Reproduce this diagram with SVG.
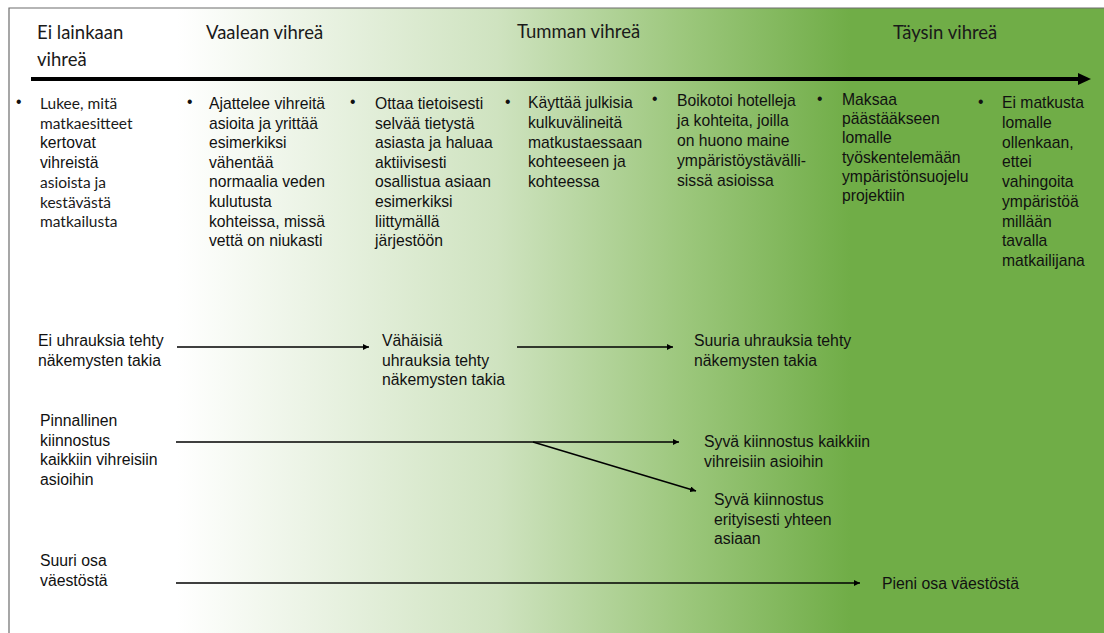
<svg xmlns="http://www.w3.org/2000/svg" width="1104" height="633" viewBox="0 0 1104 633">
  <defs>
    <linearGradient id="bg" x1="0" y1="0" x2="1104" y2="0" gradientUnits="userSpaceOnUse">
      <stop offset="0.16" stop-color="#ffffff"/>
      <stop offset="0.45" stop-color="#cfe3c0"/>
      <stop offset="0.62" stop-color="#9cc77c"/>
      <stop offset="0.77" stop-color="#70ad47"/>
      <stop offset="1" stop-color="#70ad47"/>
    </linearGradient>
    <marker id="ah" viewBox="0 0 10 10" refX="10" refY="5" markerWidth="6" markerHeight="6" markerUnits="userSpaceOnUse" orient="auto">
      <path d="M0,0 L10,5 L0,10 z" fill="#000"/>
    </marker>
    <style>
      .hdr { font-family: Lato, "Liberation Sans", sans-serif; font-size: 18.5px; fill: #1a1a1a; }
      .cal { font-family: Lato, "Liberation Sans", sans-serif; font-size: 15.5px; fill: #1a1a1a; }
      .txt { font-family: "Liberation Sans", Arial, sans-serif; font-size: 15.7px; fill: #111; }
      .lbl { font-family: "Liberation Sans", Arial, sans-serif; font-size: 15.8px; fill: #111; }
      .con { stroke: #000; stroke-width: 1.6; fill: none; }
    </style>
  </defs>

  <rect x="0" y="0" width="1104" height="633" fill="#ffffff"/>
  <rect x="9" y="8" width="1095" height="625" fill="url(#bg)"/>
  <path d="M9,633 V8 H1104" fill="none" stroke="#6d6d6d" stroke-width="1.2"/>

  <g id="header">
    <text class="hdr" x="37" y="39">Ei lainkaan</text>
    <text class="hdr" x="37" y="66">vihreä</text>
    <text class="hdr" x="206" y="39">Vaalean vihreä</text>
    <text class="hdr" x="517" y="38">Tumman vihreä</text>
    <text class="hdr" x="893" y="39">Täysin vihreä</text>
  </g>

  <g id="axis">
    <line x1="31" y1="79" x2="1080" y2="79" stroke="#000" stroke-width="4"/>
    <path d="M1078,73 L1091,79 L1078,85 z" fill="#000"/>
  </g>

  <g id="col1">
    <text class="txt" x="16" y="107">•</text>
    <text class="cal" x="40" y="109">Lukee, mitä</text>
    <text class="cal" x="40" y="128.5">matkaesitteet</text>
    <text class="txt" x="40" y="148">kertovat</text>
    <text class="txt" x="40" y="168">vihreistä</text>
    <text class="cal" x="40" y="188">asioista ja</text>
    <text class="cal" x="40" y="207.5">kestävästä</text>
    <text class="cal" x="40" y="227">matkailusta</text>
  </g>

  <g id="col2">
    <text class="txt" x="187" y="107">•</text>
    <text class="txt" y="109"><tspan x="209">Ajattelee vihreitä</tspan><tspan x="209" dy="19.6">asioita ja yrittää</tspan><tspan x="209" dy="19.6">esimerkiksi</tspan><tspan x="209" dy="19.6">vähentää</tspan><tspan x="209" dy="19.6">normaalia veden</tspan><tspan x="209" dy="19.6">kulutusta</tspan><tspan x="209" dy="19.6">kohteissa, missä</tspan><tspan x="209" dy="19.6">vettä on niukasti</tspan></text>
  </g>

  <g id="col3">
    <text class="txt" x="350" y="107">•</text>
    <text class="txt" y="109"><tspan x="375">Ottaa tietoisesti</tspan><tspan x="375" dy="19.6">selvää tietystä</tspan><tspan x="375" dy="19.6">asiasta ja haluaa</tspan><tspan x="375" dy="19.6">aktiivisesti</tspan><tspan x="375" dy="19.6">osallistua asiaan</tspan><tspan x="375" dy="19.6">esimerkiksi</tspan><tspan x="375" dy="19.6">liittymällä</tspan><tspan x="375" dy="19.6">järjestöön</tspan></text>
  </g>

  <g id="col4">
    <text class="txt" x="505" y="107">•</text>
    <text class="txt" y="108"><tspan x="528">Käyttää julkisia</tspan><tspan x="528" dy="19.8">kulkuvälineitä</tspan><tspan x="528" dy="19.8">matkustaessaan</tspan><tspan x="528" dy="19.8">kohteeseen ja</tspan><tspan x="528" dy="19.8">kohteessa</tspan></text>
  </g>

  <g id="col5">
    <text class="txt" x="652" y="104">•</text>
    <text class="txt" y="106"><tspan x="677">Boikotoi hotelleja</tspan><tspan x="677" dy="20">ja kohteita, joilla</tspan><tspan x="677" dy="20">on huono maine</tspan><tspan x="677" dy="20">ympäristöystävälli-</tspan><tspan x="677" dy="20">sissä asioissa</tspan></text>
  </g>

  <g id="col6">
    <text class="txt" x="817" y="104">•</text>
    <text class="txt" y="105"><tspan x="842">Maksaa</tspan><tspan x="842" dy="19.2">päästääkseen</tspan><tspan x="842" dy="19.2">lomalle</tspan><tspan x="842" dy="19.2">työskentelemään</tspan><tspan x="842" dy="19.2">ympäristönsuojelu</tspan><tspan x="842" dy="19.2">projektiin</tspan></text>
  </g>

  <g id="col7">
    <text class="txt" x="978" y="107">•</text>
    <text class="txt" y="108"><tspan x="1002">Ei matkusta</tspan><tspan x="1002" dy="19.75">lomalle</tspan><tspan x="1002" dy="19.75">ollenkaan,</tspan><tspan x="1002" dy="19.75">ettei</tspan><tspan x="1002" dy="19.75">vahingoita</tspan><tspan x="1002" dy="19.75">ympäristöä</tspan><tspan x="1002" dy="19.75">millään</tspan><tspan x="1002" dy="19.75">tavalla</tspan><tspan x="1002" dy="19.75">matkailijana</tspan></text>
  </g>

  <g id="n-ei-uhrauksia">
    <text class="lbl" y="346"><tspan x="38">Ei uhrauksia tehty</tspan><tspan x="38" dy="19.5">näkemysten takia</tspan></text>
  </g>
  <g id="n-vahaisia">
    <text class="lbl" y="346"><tspan x="382">Vähäisiä</tspan><tspan x="382" dy="19.5">uhrauksia tehty</tspan><tspan x="382" dy="19.5">näkemysten takia</tspan></text>
  </g>
  <g id="n-suuria">
    <text class="lbl" y="346"><tspan x="694">Suuria uhrauksia tehty</tspan><tspan x="694" dy="19.5">näkemysten takia</tspan></text>
  </g>
  <g id="n-pinnallinen">
    <text class="lbl" y="426"><tspan x="40">Pinnallinen</tspan><tspan x="40" dy="19.7">kiinnostus</tspan><tspan x="40" dy="19.7">kaikkiin vihreisiin</tspan><tspan x="40" dy="19.7">asioihin</tspan></text>
  </g>
  <g id="n-syva-kaikkiin">
    <text class="lbl" y="447"><tspan x="704">Syvä kiinnostus kaikkiin</tspan><tspan x="704" dy="19.7">vihreisiin asioihin</tspan></text>
  </g>
  <g id="n-syva-yhteen">
    <text class="lbl" y="505"><tspan x="714">Syvä kiinnostus</tspan><tspan x="714" dy="19.7">erityisesti yhteen</tspan><tspan x="714" dy="19.7">asiaan</tspan></text>
  </g>
  <g id="n-suuri-osa">
    <text class="lbl" y="566"><tspan x="40">Suuri osa</tspan><tspan x="40" dy="19.7">väestöstä</tspan></text>
  </g>
  <g id="n-pieni-osa">
    <text class="lbl" x="882" y="589">Pieni osa väestöstä</text>
  </g>

  <g id="connectors">
    <line class="con" x1="177" y1="347" x2="369" y2="347" marker-end="url(#ah)"/>
    <line class="con" x1="517" y1="347" x2="673" y2="347" marker-end="url(#ah)"/>
    <line class="con" x1="176" y1="442" x2="679" y2="442" marker-end="url(#ah)"/>
    <line class="con" x1="533" y1="442" x2="696" y2="491" marker-end="url(#ah)"/>
    <line class="con" x1="176" y1="583" x2="860" y2="583" marker-end="url(#ah)"/>
  </g>
</svg>
